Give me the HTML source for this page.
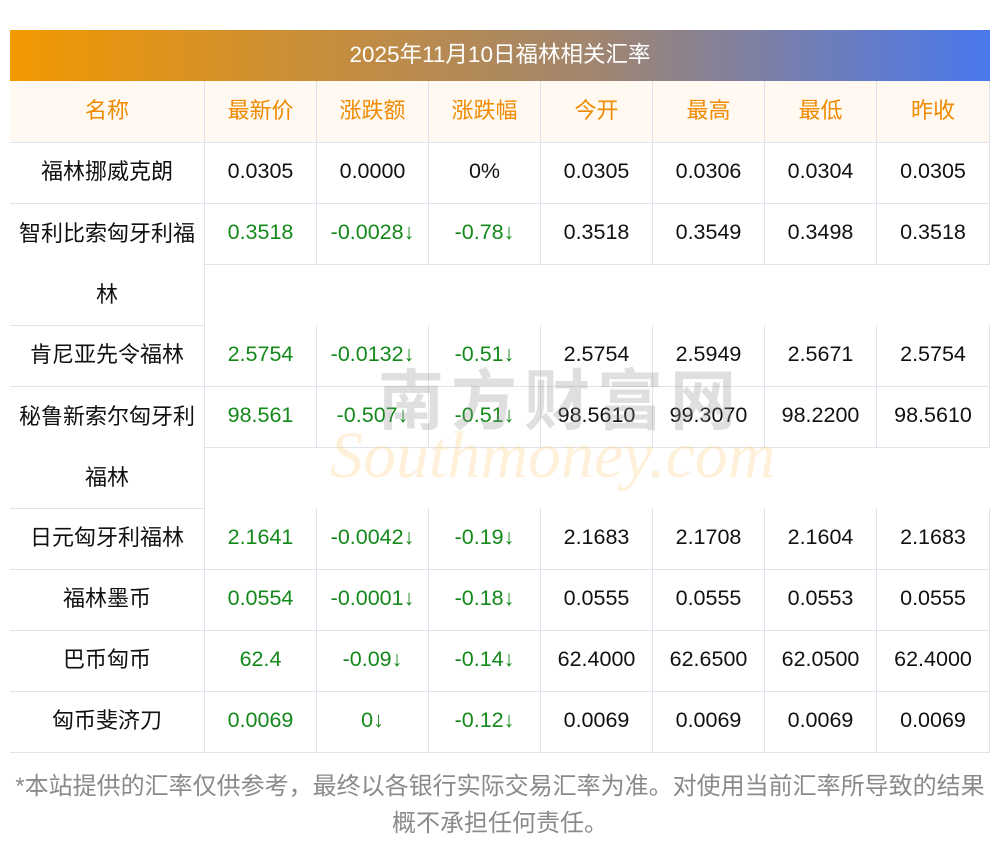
<!DOCTYPE html>
<html><head><meta charset="utf-8"><style>
body{margin:0;width:1000px;height:853px;background:#fff;position:relative;font-family:"Liberation Sans","Noto Sans CJK SC",sans-serif;overflow:hidden}
.t{position:absolute;left:10px;top:30px;width:980px;height:51px;background:linear-gradient(90deg,#f39800,#a08570 60%,#4a78ee);color:#fff;font-size:22.5px;line-height:49px;text-align:center}
.c{position:absolute;box-sizing:border-box;border-right:1px solid #e0e3ec;border-bottom:1px solid #e0e3ec;text-align:center;line-height:59px;font-size:21.5px;color:#111}
.c.n{font-size:22px}
.h{background:#fff9f2;color:#f08a00;font-size:22px}
.g{color:#14891b}
.f{position:absolute;left:0;width:1000px;top:768px;text-align:center;color:#8a8a8a;font-size:24px;line-height:37px;white-space:nowrap}
.wm{position:absolute;left:378px;top:348px;font-size:66px;color:rgba(150,150,150,.3);font-weight:bold;letter-spacing:7px}
.wm2{position:absolute;left:330px;top:418px;font-size:66px;color:rgba(255,200,120,.28);font-style:italic;font-family:"Liberation Serif",serif}
</style></head><body>
<div class="t">2025年11月10日福林相关汇率</div>
<div id="tb"></div>
<div class="wm">南方财富网</div>
<div class="wm2">Southmoney.com</div>
<div class="f">*本站提供的汇率仅供参考，最终以各银行实际交易汇率为准。对使用当前汇率所导致的结果<br>概不承担任何责任。</div>
<script>
var xs=[10,205,317,429,541,653,765,877,989];
var rows=[
["名称","最新价","涨跌额","涨跌幅","今开","最高","最低","昨收",1,1],
["福林挪威克朗","0.0305","0.0000","0%","0.0305","0.0306","0.0304","0.0305",1,0],
["智利比索匈牙利福<br>林","0.3518","-0.0028↓","-0.78↓","0.3518","0.3549","0.3498","0.3518",2,0],
["肯尼亚先令福林","2.5754","-0.0132↓","-0.51↓","2.5754","2.5949","2.5671","2.5754",1,0],
["秘鲁新索尔匈牙利<br>福林","98.561","-0.507↓","-0.51↓","98.5610","99.3070","98.2200","98.5610",2,0],
["日元匈牙利福林","2.1641","-0.0042↓","-0.19↓","2.1683","2.1708","2.1604","2.1683",1,0],
["福林墨币","0.0554","-0.0001↓","-0.18↓","0.0555","0.0555","0.0553","0.0555",1,0],
["巴币匈币","62.4","-0.09↓","-0.14↓","62.4000","62.6500","62.0500","62.4000",1,0],
["匈币斐济刀","0.0069","0↓","-0.12↓","0.0069","0.0069","0.0069","0.0069",1,0]];
var y=81,h='';
rows.forEach(function(r,i){
 var n=r[8],hd=r[9];
 for(var j=0;j<8;j++){
  var w=xs[j+1]-xs[j],ht=(j==0?61*n:61);
  var cls='c'+(hd?' h':'')+(j==0?' n':'')+(!hd&&j>=1&&j<=3&&i>1?' g':'');
  var st='left:'+xs[j]+'px;top:'+y+'px;width:'+(w+(j==7?1:0))+'px;height:'+(ht+1)+'px;';
  if(j==0&&n==2)st+='line-height:61px;';
  if(j==0)st+='padding:0 4px;';
  h+='<div class="'+cls+'" style="'+st+'">'+r[j]+'</div>';
 }
 y+=61*n;
});
document.getElementById('tb').innerHTML=h;
</script>
</body></html>
